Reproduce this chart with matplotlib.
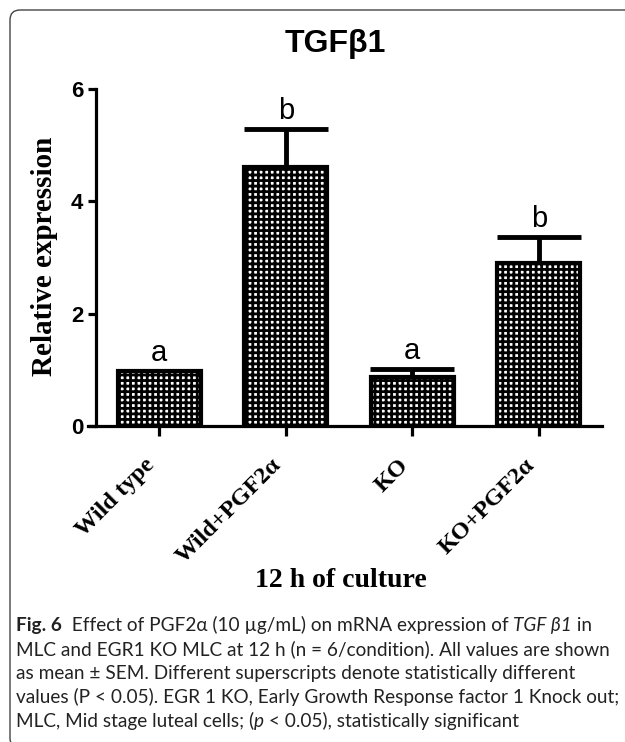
import matplotlib
matplotlib.use("Agg")
import matplotlib.pyplot as plt
import numpy as np
from matplotlib.patches import FancyBboxPatch
from matplotlib.transforms import IdentityTransform, ScaledTranslation

# ---- data ----
categories = ["Wild type", "Wild+PGF2\u03b1", "KO", "KO+PGF2\u03b1"]
means = [0.98, 4.62, 0.87, 2.91]
sems = [0.0, 0.68, 0.15, 0.46]
letters = ["a", "b", "a", "b"]
yticks = [0, 2, 4, 6]
title = "TGF\u03b21"
ylabel = "Relative expression"
xlabel = "12 h of culture"
caption_lines = [
    [("Fig. 6", "bold", "normal"),
     ("  Effect of PGF2\u03b1 (10 \u00b5g/mL) on mRNA expression of ", "normal", "normal"),
     ("TGF \u03b21", "normal", "italic"),
     (" in", "normal", "normal")],
    [("MLC and EGR1 KO MLC at 12 h (n = 6/condition). All values are shown", "normal", "normal")],
    [("as mean \u00b1 SEM. Different superscripts denote statistically different", "normal", "normal")],
    [("values (P < 0.05). EGR 1 KO, Early Growth Response factor 1 Knock out;", "normal", "normal")],
    [("MLC, Mid stage luteal cells; (", "normal", "normal"),
     ("p", "normal", "italic"),
     (" < 0.05), statistically significant", "normal", "normal")],
]

W, H, DPI = 625, 742, 100
plt.rcParams["hatch.linewidth"] = 2.0
fig = plt.figure(figsize=(W / DPI, H / DPI), dpi=DPI)

def fx(px):
    return px / W

def fy(py):
    return 1 - py / H

ax = fig.add_axes([fx(96), fy(425.7), fx(602) - fx(96), fy(89.3) - fy(425.7)])
x = np.arange(len(categories))
ax.bar(x, means, width=0.66, color="white", edgecolor="black", linewidth=3,
       hatch="+++", zorder=3)
m = np.array(sems) > 0
ax.errorbar(x[m], np.array(means)[m], yerr=[np.zeros(m.sum()), np.array(sems)[m]],
            fmt="none", ecolor="black", elinewidth=3.5, capsize=30, capthick=3.5,
            zorder=2)
for xi, mv, se, lt in zip(x, means, sems, letters):
    ax.text(xi, mv + se + 0.17, lt, ha="center", va="baseline",
            fontsize=21, family="Liberation Sans")

ax.set_xlim(-0.5, 3.5)
ax.set_ylim(0, 6)
ax.set_yticks(yticks)
ax.set_yticklabels([str(t) for t in yticks], fontsize=16, fontweight="bold",
                   family="Liberation Sans")
ax.set_xticks(x)
ax.set_xticklabels(categories, rotation=45, ha="right", va="top",
                   fontsize=17.5, fontweight="bold", family="Liberation Serif")
for lab in ax.get_xticklabels():
    lab.set_transform(lab.get_transform() + ScaledTranslation(0.04, 0, fig.dpi_scale_trans))
for s in ["top", "right"]:
    ax.spines[s].set_visible(False)
for s in ["left", "bottom"]:
    ax.spines[s].set_linewidth(2.3)
ax.spines["bottom"].set_bounds(-0.565, 3.5)
ax.tick_params(axis="y", width=2.3, length=6, pad=3)
ax.tick_params(axis="x", width=2.3, length=7, pad=14)

fig.text(fx(335), fy(51.7), title, ha="center", va="baseline", fontsize=23,
         fontweight="bold", family="Liberation Sans")
fig.text(fx(45), fy(256), ylabel, ha="center", va="center", rotation=90,
         fontsize=21, fontweight="bold", family="Liberation Serif")
fig.text(fx(341), fy(587), xlabel, ha="center", va="baseline", fontsize=20,
         fontweight="bold", family="Liberation Serif")

# border
border = FancyBboxPatch((10, -6), 640, 738, boxstyle="round,pad=0,rounding_size=10",
                        transform=IdentityTransform(), facecolor="none",
                        edgecolor="#444444", linewidth=1.0, clip_on=False)
fig.add_artist(border)

# caption
fam = ["Lato", "DejaVu Sans"]
renderer = fig.canvas.get_renderer()

def twidth(s, size, weight, style):
    t1 = fig.text(0, 0, "|" + s + "|", fontsize=size, fontweight=weight,
                  fontstyle=style, family=fam)
    t2 = fig.text(0, 0, "||", fontsize=size, fontweight=weight,
                  fontstyle=style, family=fam)
    w = t1.get_window_extent(renderer).width - t2.get_window_extent(renderer).width
    t1.remove(); t2.remove()
    return w

left = 16.0
fit_targets = {1: 618.0, 3: 616.0}
base = 12.0
cap_size = min(base * (end - left) / twidth(caption_lines[i][0][0], base, "normal", "normal")
               for i, end in fit_targets.items())
baselines = [631, 655, 679, 703, 727]
for runs, by in zip(caption_lines, baselines):
    xp = left
    for s, wgt, sty in runs:
        fig.text(fx(xp), fy(by), s, ha="left", va="baseline", fontsize=cap_size,
                 fontweight=wgt, fontstyle=sty, family=fam, color="#222222")
        xp += twidth(s, cap_size, wgt, sty)

fig.savefig("out.png", dpi=DPI)
